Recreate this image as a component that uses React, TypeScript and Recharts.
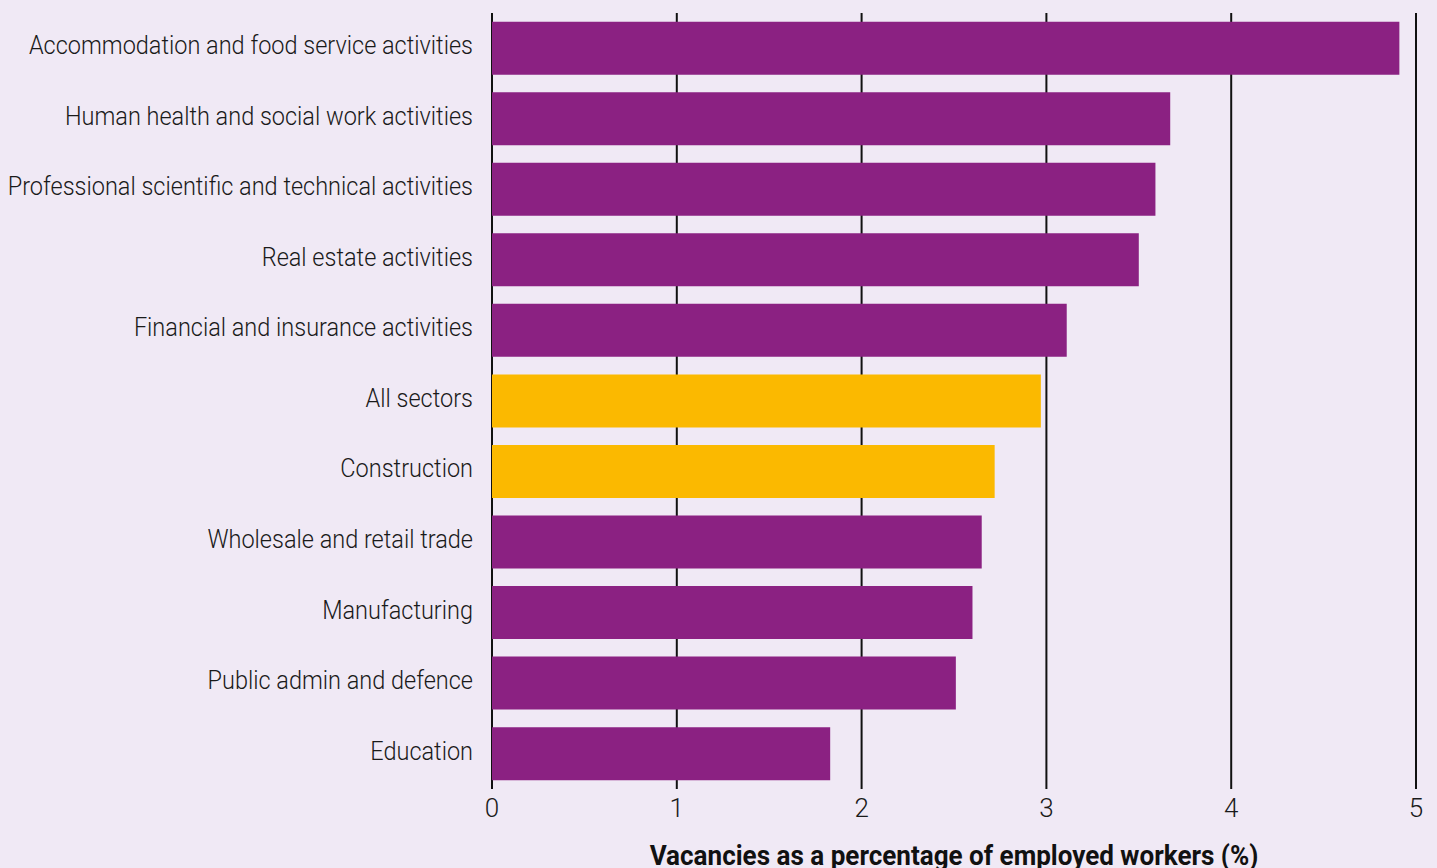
import { BarChart, Bar, XAxis, YAxis, CartesianGrid, Cell, Label } from 'recharts';

const sectors = [
    'Accommodation and food service activities',
    'Human health and social work activities',
    'Professional scientific and technical activities',
    'Real estate activities',
    'Financial and insurance activities',
    'All sectors',
    'Construction',
    'Wholesale and retail trade',
    'Manufacturing',
    'Public admin and defence',
    'Education',
];

const vacancyRates = [4.91, 3.67, 3.59, 3.5, 3.11, 2.97, 2.72, 2.65, 2.6, 2.51, 1.83];

// sectors drawn in yellow instead of purple
const highlighted = ['All sectors', 'Construction'];

const xTicks = [0, 1, 2, 3, 4, 5];

const PURPLE = '#8b2182';
const YELLOW = '#fbb900';
const FONT = "Roboto, sans-serif";

const data = sectors.map((name, i) => ({ name, value: vacancyRates[i] }));

// the original uses a condensed face, so squeeze Roboto a little
const SectorTick = ({ x, y, payload }: any) => (
    <g transform={`translate(${x},${y - 3})`}>
        <text
            transform="scale(0.94,1)"
            textAnchor="end"
            dy="0.355em"
            fill="#1a1a1a"
            fontSize={25}
            fontWeight={300}
            fontFamily={FONT}
        >
            {payload.value}
        </text>
    </g>
);

const AxisTitle = ({ viewBox }: any) => {
    const cx = viewBox.x + viewBox.width / 2;
    return (
        <g transform={`translate(${cx},865)`}>
            <text transform="scale(0.965,1)" textAnchor="middle" fill="#111" fontSize={27} fontWeight="bold" fontFamily={FONT}>
                Vacancies as a percentage of employed workers (%)
            </text>
        </g>
    );
};

export default function App() {
    return (
        <div style={{ position: 'absolute', top: 0, left: 0, width: 1437, height: 868, background: '#f0e9f5', fontFamily: FONT }}>
            <BarChart
                width={1437}
                height={868}
                data={data}
                layout="vertical"
                margin={{ top: 13, right: 21, left: 0, bottom: 0 }}
                barCategoryGap="12.3%"
            >
                <CartesianGrid horizontal={false} stroke="#111" strokeWidth={2} />
                <XAxis
                    type="number"
                    domain={[0, 5]}
                    ticks={xTicks}
                    axisLine={false}
                    tickLine={false}
                    tickSize={0}
                    tickMargin={10}
                    height={79}
                    tick={{ fill: '#1a1a1a', fontSize: 26, fontWeight: 300, fontFamily: FONT }}
                >
                    <Label content={<AxisTitle />} />
                </XAxis>
                <YAxis
                    type="category"
                    dataKey="name"
                    width={492}
                    axisLine={false}
                    tickLine={false}
                    tickSize={0}
                    tickMargin={19}
                    interval={0}
                    tick={<SectorTick />}
                />
                <Bar dataKey="value" isAnimationActive={false}>
                    {data.map((d) => (
                        <Cell key={d.name} fill={highlighted.includes(d.name) ? YELLOW : PURPLE} />
                    ))}
                </Bar>
            </BarChart>
        </div>
    );
}
